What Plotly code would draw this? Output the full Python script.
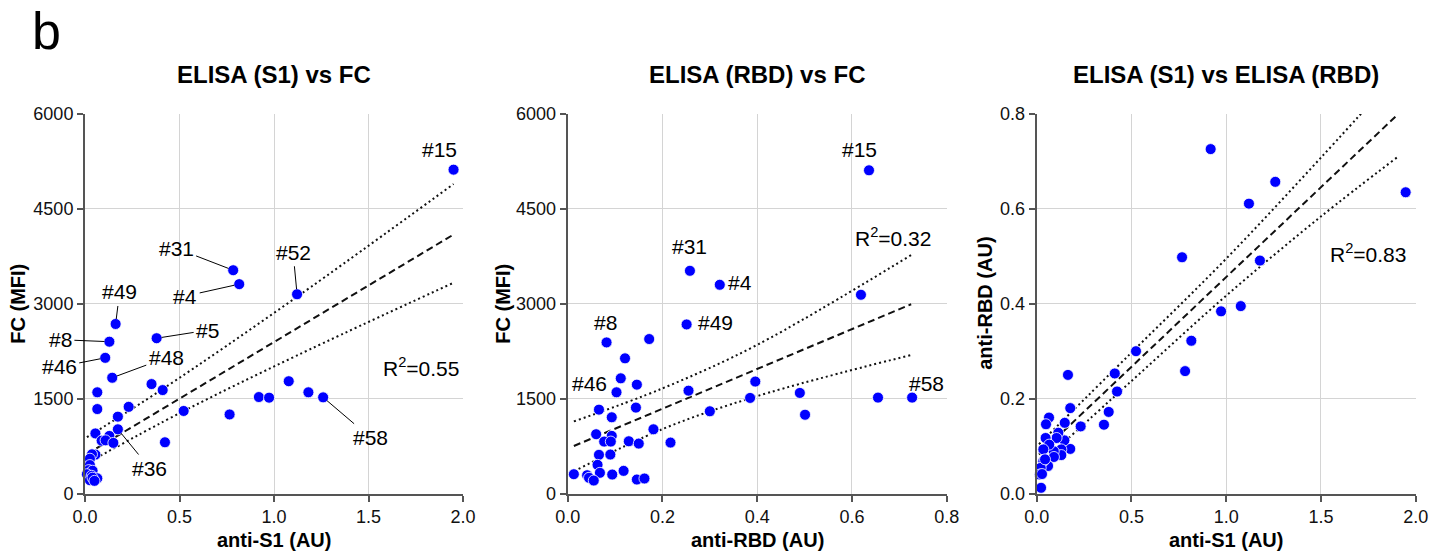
import plotly.graph_objects as go

# ---------------- data ----------------
# Panel 1: ELISA (S1) vs FC
s1_x = [1.95, 0.784, 0.816, 1.122, 0.162, 0.129, 0.379, 0.107, 0.144, 0.352,
        0.411, 0.065, 0.065, 0.231, 0.174, 0.522, 0.765, 1.078, 1.182, 1.26,
        0.92, 0.974, 0.174, 0.423, 0.055, 0.129, 0.088, 0.109, 0.15, 0.055,
        0.037, 0.026, 0.026, 0.02, 0.04, 0.01, 0.035, 0.065, 0.026, 0.04, 0.05]
s1_fc = [5120, 3530, 3310, 3150, 2680, 2400, 2455, 2145, 1830, 1730,
         1635, 1600, 1335, 1370, 1215, 1305, 1250, 1775, 1600, 1520,
         1525, 1515, 1015, 810, 950, 910, 835, 840, 800, 615,
         620, 550, 450, 370, 360, 305, 280, 240, 210, 250, 200]
s1_labels = ["#15", "#31", "#4", "#52", "#49", "#8", "#5", "#46", "#48", "",
             "", "", "", "", "", "", "", "", "", "#58",
             "", "", "#36", "", "", "", "", "", "", "",
             "", "", "", "", "", "", "", "", "", "", ""]
# regression line and 95% band
s1_fit_x = [0.01, 1.95]
s1_fit_y = [623, 4094]
s1_up_x = [0.01, 0.41, 1.122, 1.95]
s1_up_y = [890, 1650, 3110, 4893]
s1_lo_x = [0.01, 0.52, 1.12, 1.95]
s1_lo_y = [480, 1300, 2180, 3332]

# Panel 2: ELISA (RBD) vs FC
rbd_x = [0.636, 0.258, 0.321, 0.619, 0.251, 0.082, 0.172, 0.121, 0.112, 0.146,
         0.103, 0.255, 0.396, 0.385, 0.300, 0.066, 0.144, 0.093, 0.181, 0.060,
         0.093, 0.077, 0.091, 0.129, 0.150, 0.217, 0.066, 0.090, 0.063, 0.068,
         0.094, 0.118, 0.013, 0.041, 0.045, 0.055, 0.146, 0.162, 0.727, 0.655,
         0.490, 0.501]
rbd_fc = [5110, 3521, 3300, 3142, 2673, 2389, 2442, 2137, 1821, 1721,
          1600, 1626, 1770, 1511, 1300, 1326, 1358, 1205, 1015, 937,
          911, 821, 821, 826, 789, 805, 611, 616, 453, 327,
          300, 358, 305, 289, 248, 205, 221, 237, 1516, 1516,
          1590, 1245]
rbd_labels = ["#15", "#31", "#4", "", "#49", "#8", "", "#46", "", "",
              "", "", "", "", "", "", "", "", "", "",
              "", "", "", "", "", "", "", "", "", "",
              "", "", "", "", "", "", "", "", "#58", "",
              "", ""]
rbd_fit_x = [0.013, 0.725]
rbd_fit_y = [751, 2992]
rbd_up_x = [0.013, 0.2, 0.4, 0.725]
rbd_up_y = [1140, 1662, 2350, 3770]
rbd_lo_x = [0.013, 0.2, 0.4, 0.725]
rbd_lo_y = [350, 1018, 1540, 2190]

# Panel 3: ELISA (S1) vs ELISA (RBD)
c_s1 = [0.918, 1.259, 1.120, 1.947, 0.767, 1.178, 0.973, 1.077, 0.816, 0.524,
        0.783, 0.165, 0.412, 0.424, 0.380, 0.355, 0.232, 0.177, 0.148, 0.177,
        0.146, 0.114, 0.105, 0.130, 0.130, 0.090, 0.091, 0.065, 0.049, 0.047,
        0.066, 0.035, 0.060, 0.035, 0.021, 0.017, 0.023, 0.044, 0.028]
c_rbd = [0.726, 0.657, 0.611, 0.635, 0.498, 0.491, 0.384, 0.395, 0.322, 0.300,
         0.258, 0.250, 0.253, 0.215, 0.172, 0.145, 0.1415, 0.180, 0.149, 0.094,
         0.112, 0.128, 0.117, 0.093, 0.081, 0.089, 0.077, 0.160, 0.146, 0.117,
         0.103, 0.093, 0.058, 0.068, 0.054, 0.040, 0.012, 0.072, 0.041]
c_fit_x = [0.012, 1.9]
c_fit_y = [0.0823, 0.797]
c_up_x = [0.012, 0.5, 1.0, 1.5, 1.9]
c_up_y = [0.104, 0.297, 0.495, 0.708, 0.884]
c_lo_x = [0.012, 0.5, 1.0, 1.5, 1.9]
c_lo_y = [0.060, 0.237, 0.417, 0.584, 0.708]

r2_texts = ["R<sup>2</sup>=0.55", "R<sup>2</sup>=0.32", "R<sup>2</sup>=0.83"]
titles = ["ELISA (S1) vs FC", "ELISA (RBD) vs FC", "ELISA (S1) vs ELISA (RBD)"]
x_titles = ["anti-S1 (AU)", "anti-RBD (AU)", "anti-S1 (AU)"]
y_titles = ["FC (MFI)", "FC (MFI)", "anti-RBD (AU)"]
x_ticks = [[0.0, 0.5, 1.0, 1.5, 2.0], [0.0, 0.2, 0.4, 0.6, 0.8], [0.0, 0.5, 1.0, 1.5, 2.0]]
y_ticks = [[0, 1500, 3000, 4500, 6000], [0, 1500, 3000, 4500, 6000], [0.0, 0.2, 0.4, 0.6, 0.8]]
y_tick_fmt = ["d", "d", ".1f"]

# ---------------- layout helpers ----------------
W, H = 1446, 557
OFF = 8  # page body margin
FONT = "Liberation Sans, Arial, Helvetica, sans-serif"
plot_px = [(85, 463), (567.7, 946.7), (1036.7, 1415.7)]
top_px, bot_px = 114, 493.5


def px_x(p):
    return (p - OFF) / W


def px_y(p):
    return 1 - (p - OFF) / H


fig = go.Figure()
panels = [
    (s1_x, s1_fc, s1_fit_x, s1_fit_y, s1_up_x, s1_up_y, s1_lo_x, s1_lo_y),
    (rbd_x, rbd_fc, rbd_fit_x, rbd_fit_y, rbd_up_x, rbd_up_y, rbd_lo_x, rbd_lo_y),
    (c_s1, c_rbd, c_fit_x, c_fit_y, c_up_x, c_up_y, c_lo_x, c_lo_y),
]

for i, (xv, yv, fx, fy, ux, uy, lx, ly) in enumerate(panels):
    xa = "x" if i == 0 else f"x{i + 1}"
    ya = "y" if i == 0 else f"y{i + 1}"
    for bx, by in [(ux, uy), (lx, ly)]:
        fig.add_trace(go.Scatter(x=bx, y=by, mode="lines", xaxis=xa, yaxis=ya,
                                 line=dict(color="#111111", width=2, dash="2px,3px",
                                           shape="spline", smoothing=1),
                                 hoverinfo="skip", showlegend=False))
    fig.add_trace(go.Scatter(x=fx, y=fy, mode="lines", xaxis=xa, yaxis=ya,
                             line=dict(color="#111111", width=2, dash="7px,4px"),
                             hoverinfo="skip", showlegend=False))
    fig.add_trace(go.Scatter(x=xv, y=yv, mode="markers", xaxis=xa, yaxis=ya,
                             cliponaxis=False, showlegend=False,
                             marker=dict(color="#0000ff", size=11,
                                         line=dict(color="white", width=0.8))))

axis_common = dict(showgrid=True, gridcolor="#d4d4d4", gridwidth=1,
                   showline=True, linecolor="#555555", linewidth=2,
                   ticks="outside", ticklen=6, tickwidth=1.5, tickcolor="#555555",
                   tickfont=dict(family=FONT, size=18, color="#111111"),
                   zeroline=False, mirror=False, automargin=False)

x_ranges = [[0, 2], [0, 0.8], [0, 2]]
y_ranges = [[0, 6000], [0, 6000], [0, 0.8]]
for i in range(3):
    kx = "xaxis" if i == 0 else f"xaxis{i + 1}"
    ky = "yaxis" if i == 0 else f"yaxis{i + 1}"
    anchor_x = "y" if i == 0 else f"y{i + 1}"
    anchor_y = "x" if i == 0 else f"x{i + 1}"
    l, r = plot_px[i]
    fig.layout[kx] = dict(axis_common, domain=[px_x(l), px_x(r)], range=x_ranges[i],
                          tickvals=x_ticks[i], ticktext=[f"{v:.1f}" for v in x_ticks[i]],
                          anchor=anchor_x)
    fig.layout[ky] = dict(axis_common, domain=[px_y(bot_px), px_y(top_px)], range=y_ranges[i],
                          tickvals=y_ticks[i],
                          ticktext=[format(v, y_tick_fmt[i]) for v in y_ticks[i]],
                          anchor=anchor_y)

ann = []


def paper_text(text, cx, cy, size, angle=0):
    return dict(text=text, x=px_x(cx), y=px_y(cy), xref="paper", yref="paper",
                xanchor="center", yanchor="middle", showarrow=False, textangle=angle,
                font=dict(family=FONT, size=size, color="black"))


ann.append(paper_text("b", 46, 31, 52))
title_y = 75
xtitle_y = 540
ytitle_x = [18, 503, 985]
r2_pos = [(421, 367), (893, 237), (1368, 253)]
for i in range(3):
    l, r = plot_px[i]
    cx = (l + r) / 2
    ann.append(paper_text(f"<b>{titles[i]}</b>", cx, title_y, 24))
    ann.append(paper_text(f"<b>{x_titles[i]}</b>", cx, xtitle_y, 20))
    ann.append(paper_text(f"<b>{y_titles[i]}</b>", ytitle_x[i], (top_px + bot_px) / 2, 20, -90))
    ann.append(paper_text(r2_texts[i], r2_pos[i][0], r2_pos[i][1], 21))

lab_font = dict(family=FONT, size=21, color="black")
# panel 1 labels: (ax, ay, leader line?)
p1_off = {"#15": (-14, -20, False), "#31": (-57, -22, True), "#4": (-54, 12, True),
          "#52": (-4, -42, True), "#49": (4, -32, True), "#8": (-49, -2, True),
          "#5": (51, -8, True), "#46": (-46, 9, True), "#48": (54, -20, True),
          "#36": (32, 39, True), "#58": (47, 40, True)}
for xv, yv, lab in zip(s1_x, s1_fc, s1_labels):
    if not lab:
        continue
    ax, ay, line = p1_off[lab]
    if line:
        ann.append(dict(text=lab, x=xv, y=yv, xref="x", yref="y", ax=ax, ay=ay,
                        xanchor="center", yanchor="middle",
                        showarrow=True, arrowhead=0, arrowwidth=1, arrowcolor="black",
                        standoff=5, startstandoff=1, font=lab_font))
    else:
        ann.append(dict(text=lab, x=xv, y=yv, xref="x", yref="y", showarrow=False,
                        xanchor="center", yanchor="middle",
                        xshift=ax, yshift=-ay, font=lab_font))

p2_off = {"#15": (-10, 21), "#31": (0, 24), "#4": (20, 2), "#49": (29, 2),
          "#8": (-1, 20), "#46": (-36, -25), "#58": (14, 14)}
for xv, yv, lab in zip(rbd_x, rbd_fc, rbd_labels):
    if not lab:
        continue
    dx, dy = p2_off[lab]
    ann.append(dict(text=lab, x=xv, y=yv, xref="x2", yref="y2", showarrow=False,
                    xanchor="center", yanchor="middle",
                    xshift=dx, yshift=dy, font=lab_font))

fig.update_layout(width=W, height=H, margin=dict(l=0, r=0, t=0, b=0, autoexpand=False),
                  paper_bgcolor="white", plot_bgcolor="white",
                  font=dict(family=FONT, color="black"),
                  annotations=ann, showlegend=False)

fig.write_html("out.html")
